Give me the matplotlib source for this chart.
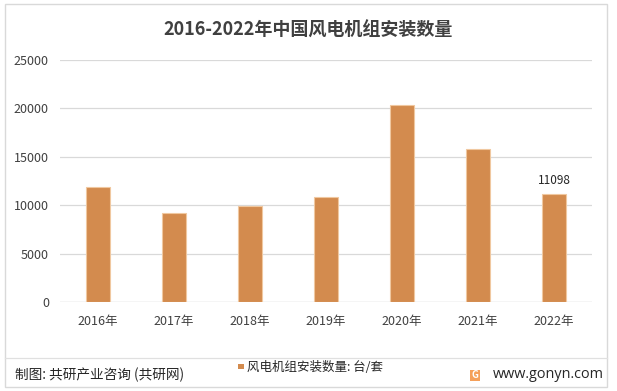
import matplotlib
matplotlib.use("Agg")
import matplotlib.pyplot as plt
from matplotlib.patches import Rectangle, FancyBboxPatch

plt.rcParams['font.family'] = ['Noto Sans CJK SC', 'DejaVu Sans']

categories = ['2016年', '2017年', '2018年', '2019年', '2020年', '2021年', '2022年']
values = [11874, 9197, 9918, 10845, 20319, 15829, 11098]
yticks = [0, 5000, 10000, 15000, 20000, 25000]
title = '2016-2022年中国风电机组安装数量'
legend_label = '风电机组安装数量: 台/套'
source = '制图: 共研产业咨询 (共研网)'
site = 'www.gonyn.com'

W, H = 617, 391
fig = plt.figure(figsize=(W / 100, H / 100), dpi=100)
fig.patch.set_facecolor('white')

# outer border
fig.add_artist(Rectangle((5 / W, 4 / H), 602 / W, 383 / H, transform=fig.transFigure,
                         fill=False, edgecolor='#d9d9d9', linewidth=1.0))

ax = fig.add_axes([60 / W, (H - 302) / H, 532 / W, (302 - 59.7) / H])
bar_color = '#D38B4E'
x = list(range(len(categories)))
ax.bar(x, values, width=0.32, color=bar_color, edgecolor='#F0C8A0', linewidth=0.8, zorder=3)
ax.set_xlim(-0.5, len(categories) - 0.5)
ax.set_ylim(0, 25000)
ax.set_yticks(yticks)
ax.set_yticklabels([str(v) for v in yticks], fontsize=9, color='#404040')
ax.set_xticks(x)
ax.set_xticklabels(categories, fontsize=9, color='#404040')
ax.tick_params(axis='both', length=0)
ax.tick_params(axis='y', pad=8)
ax.tick_params(axis='x', pad=9)
ax.grid(axis='y', color='#d9d9d9', linewidth=0.9, zorder=0)
for s in ax.spines.values():
    s.set_visible(False)
ax.axhline(0, color='#d9d9d9', linewidth=0.9, zorder=1)

# data label on last bar
ax.annotate(str(values[-1]), (x[-1], values[-1]), xytext=(0, 9.8), textcoords='offset points',
            ha='center', va='center', fontsize=8.5, color='#262626')

fig.text(0.5, 1 - 30 / H, title, ha='center', va='center', fontsize=13,
         fontweight='bold', color='#404040')

# footer separator
fig.add_artist(plt.Line2D([5 / W, 607 / W], [1 - 357.5 / H, 1 - 357.5 / H], transform=fig.transFigure,
                          color='#e0e0e0', linewidth=0.9))

fig.text(15 / W, 1 - 375 / H, source, ha='left', va='center', fontsize=9.85, color='#262626')

# legend
fig.add_artist(Rectangle((238 / W, 1 - 369 / H), 5.5 / W, 5.5 / H, transform=fig.transFigure,
                         facecolor=bar_color, edgecolor='none'))
fig.text(247 / W, 1 - 367.5 / H, legend_label, ha='left', va='center', fontsize=9, color='#262626')

# logo
fig.add_artist(FancyBboxPatch((470 / W, 1 - 381 / H), 10 / W, 11 / H, transform=fig.transFigure,
                              boxstyle='round,pad=0', facecolor='#F5A05A', edgecolor='none'))
fig.text(475 / W, 1 - 375.5 / H, 'G', ha='center', va='center', fontsize=7, color='white',
         fontweight='bold')
fig.text(493 / W, 1 - 374 / H, site, ha='left', va='center', fontsize=10.4, color='#262626',
         family=['Open Sans', 'DejaVu Sans'])

fig.savefig('out.png', dpi=100)
